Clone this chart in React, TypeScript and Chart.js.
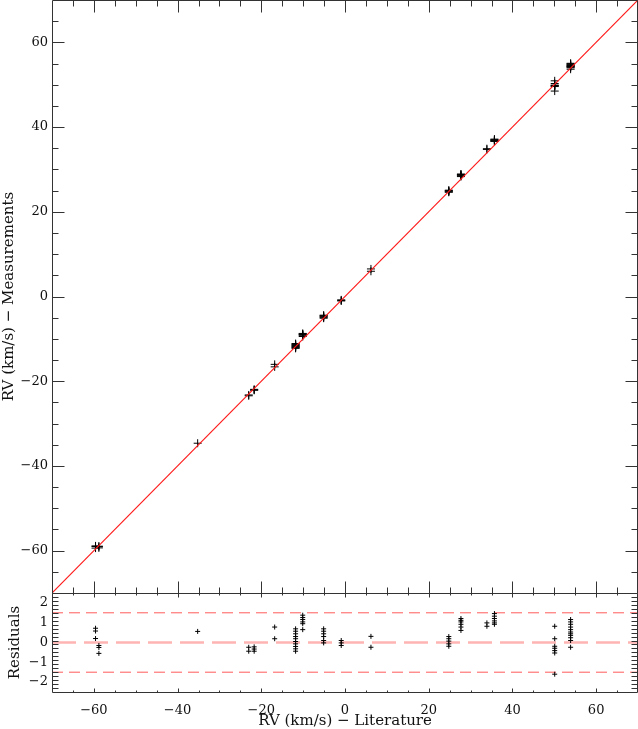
import React, { useEffect, useRef } from 'react';
import { Chart, registerables } from 'chart.js';

Chart.register(...registerables);

// ---------------- data ----------------
const AXIS_RANGE = [-70, 70];
const RES_RANGE = [-2.5, 2.5];
const xTickValues = [-60, -40, -20, 0, 20, 40, 60];
const yTickValues = [-60, -40, -20, 0, 20, 40, 60];
const resTickValues = [-2, -1, 0, 1, 2];
const resLimitValues = [-1.5, 1.5];

// literature RV of each star (km/s)
const starLiterature = [
  -59.6, -58.8, -35.2, -23.0, -21.7, -16.8, -11.8, -10.1, -5.1, -0.9, 6.2,
  24.8, 27.7, 33.9, 35.7, 50.1, 53.9,
];
// residuals (measured - literature) of the individual measurements of each star
const starResiduals = [
  [0.72, 0.58, 0.2],
  [-0.15, -0.25, -0.55],
  [0.56],
  [-0.24, -0.44],
  [-0.22, -0.33, -0.44],
  [0.78, 0.19],
  [0.69, 0.57, 0.44, 0.3, 0.19, 0.05, -0.07, -0.2, -0.32, -0.44],
  [1.38, 1.26, 1.16, 1.04, 0.95, 0.65],
  [0.69, 0.57, 0.44, 0.3, 0.1, -0.02],
  [0.1, -0.02, -0.15],
  [0.31, -0.24],
  [0.3, 0.19, 0.07, -0.07, -0.19],
  [1.21, 1.12, 1.04, 0.92, 0.78, 0.61],
  [0.99, 0.82],
  [1.46, 1.33, 1.21, 1.09, 0.99, 0.92],
  [0.82, 0.19, -0.19, -0.29, -0.41, -0.53, -1.6],
  [1.16, 1.04, 0.92, 0.78, 0.65, 0.53, 0.44, 0.36, 0.24, 0.1, -0.24],
];

const FONT = "'DejaVu Serif', 'Liberation Serif', serif";
const fmt = (v: number) => (v < 0 ? '\u2212' + Math.abs(v) : String(v));

const noPad = (s: any) => {
  s.paddingTop = 0;
  s.paddingBottom = 0;
  s.paddingLeft = 0;
  s.paddingRight = 0;
};

// ---------------- frame with inward ticks (IDL style) ----------------
function makeFramePlugin(o: {
  yMajor: number[]; yMinorStep: number; yLen: number; yMinLen: number;
  xMajor: number[]; xMinorStep: number; xLen: number; xMinLen: number;
}) {
  return {
    id: 'idlFrame',
    afterDatasetsDraw(chart: any) {
      const { ctx, chartArea: a, scales } = chart;
      const xs = scales.x, ys = scales.y;
      const L = a.left + 0.5, R = a.right - 0.5, T = a.top + 0.5, B = a.bottom + 0.5;
      ctx.save();
      ctx.strokeStyle = '#333';
      ctx.lineWidth = 1;
      ctx.beginPath();
      ctx.moveTo(L, T); ctx.lineTo(R, T); ctx.lineTo(R, B); ctx.lineTo(L, B); ctx.closePath();
      ctx.stroke();
      ctx.beginPath();
      const yMinV = ys.min, yMaxV = ys.max;
      const ny = Math.round((yMaxV - yMinV) / o.yMinorStep);
      for (let i = 0; i <= ny; i++) {
        const v = yMinV + i * o.yMinorStep;
        const isMajor = o.yMajor.some((m) => Math.abs(m - v) < 1e-6);
        const len = isMajor ? o.yLen : o.yMinLen;
        const p = Math.round(ys.getPixelForValue(v)) + 0.5;
        if (p <= T + 0.5 || p >= B - 0.5) continue;
        ctx.moveTo(L, p); ctx.lineTo(L + len, p);
        ctx.moveTo(R, p); ctx.lineTo(R - len, p);
      }
      const xMinV = xs.min, xMaxV = xs.max;
      const nx = Math.round((xMaxV - xMinV) / o.xMinorStep);
      for (let i = 0; i <= nx; i++) {
        const v = xMinV + i * o.xMinorStep;
        const isMajor = o.xMajor.some((m) => Math.abs(m - v) < 1e-6);
        const len = isMajor ? o.xLen : o.xMinLen;
        const p = Math.round(xs.getPixelForValue(v)) + 0.5;
        if (p <= L + 0.5 || p >= R - 0.5) continue;
        ctx.moveTo(p, T); ctx.lineTo(p, T + len);
        ctx.moveTo(p, B); ctx.lineTo(p, B - len);
      }
      ctx.stroke();
      ctx.restore();
    },
  };
}

export default function App() {
  const mainRef = useRef<HTMLCanvasElement>(null);
  const resRef = useRef<HTMLCanvasElement>(null);

  useEffect(() => {
    const mainPts: { x: number; y: number }[] = [];
    const resPts: { x: number; y: number }[] = [];
    starLiterature.forEach((lit, i) => {
      starResiduals[i].forEach((r) => {
        mainPts.push({ x: lit, y: lit + r });
        resPts.push({ x: lit, y: r });
      });
    });

    const main = new Chart(mainRef.current!, {
      type: 'scatter',
      data: {
        datasets: [
          {
            label: 'one-to-one',
            data: [
              { x: AXIS_RANGE[0], y: AXIS_RANGE[0] },
              { x: AXIS_RANGE[1], y: AXIS_RANGE[1] },
            ],
            showLine: true,
            borderColor: '#ff1a1a',
            borderWidth: 1.2,
            pointRadius: 0,
            order: 0,
          } as any,
          {
            label: 'stars',
            data: mainPts,
            pointStyle: 'cross',
            pointRadius: 4,
            borderColor: '#000',
            backgroundColor: '#000',
            borderWidth: 1,
            order: 1,
          } as any,
        ],
      },
      options: {
        animation: false,
        responsive: false,
        events: [],
        layout: { autoPadding: false, padding: { top: 0, right: 0, bottom: 1, left: 0 } },
        plugins: { legend: { display: false }, tooltip: { enabled: false } },
        scales: {
          x: { type: 'linear', min: AXIS_RANGE[0], max: AXIS_RANGE[1], display: false },
          y: {
            type: 'linear',
            min: AXIS_RANGE[0],
            max: AXIS_RANGE[1],
            grid: { display: false, drawTicks: false },
            border: { display: false },
            afterBuildTicks: (s: any) => { s.ticks = yTickValues.map((v) => ({ value: v })); },
            afterFit: (s: any) => { s.width = 52; noPad(s); },
            ticks: { padding: 4, color: '#111', font: { family: FONT, size: 13 }, callback: (v: any) => fmt(Number(v)) },
            title: {
              display: true,
              text: 'RV (km/s) \u2212 Measurements',
              color: '#111',
              font: { family: FONT, size: 15 },
              padding: { top: 0, bottom: 0 },
            },
          },
        },
      } as any,
      plugins: [
        makeFramePlugin({
          yMajor: yTickValues, yMinorStep: 5, yLen: 12, yMinLen: 6,
          xMajor: xTickValues, xMinorStep: 5, xLen: 12, xMinLen: 6,
        }) as any,
      ],
    });

    const res = new Chart(resRef.current!, {
      type: 'scatter',
      data: {
        datasets: [
          {
            label: 'residuals',
            data: resPts,
            pointStyle: 'cross',
            pointRadius: 2.5,
            borderColor: '#000',
            backgroundColor: '#000',
            borderWidth: 1,
            order: 0,
          } as any,
          {
            label: 'zero',
            data: [
              { x: AXIS_RANGE[0], y: 0 },
              { x: AXIS_RANGE[1], y: 0 },
            ],
            showLine: true,
            borderColor: '#ffb4b4',
            borderWidth: 2.5,
            borderDash: [24, 8],
            pointRadius: 0,
            order: 2,
          } as any,
          ...resLimitValues.map((lim) => ({
            label: 'limit ' + lim,
            data: [
              { x: AXIS_RANGE[0], y: lim },
              { x: AXIS_RANGE[1], y: lim },
            ],
            showLine: true,
            borderColor: '#ff5a5a',
            borderWidth: 1,
            borderDash: [11, 6],
            pointRadius: 0,
            order: 1,
          })) as any,
        ],
      },
      options: {
        animation: false,
        responsive: false,
        events: [],
        layout: { autoPadding: false, padding: { top: 1, right: 0, bottom: 0, left: 0 } },
        plugins: { legend: { display: false }, tooltip: { enabled: false } },
        scales: {
          x: {
            type: 'linear',
            min: AXIS_RANGE[0],
            max: AXIS_RANGE[1],
            grid: { display: false, drawTicks: false },
            border: { display: false },
            afterBuildTicks: (s: any) => { s.ticks = xTickValues.map((v) => ({ value: v })); },
            afterFit: (s: any) => { s.height = 37; noPad(s); },
            ticks: { padding: 11, maxRotation: 0, autoSkip: false, color: '#111', font: { family: FONT, size: 13 }, callback: (v: any) => fmt(Number(v)) },
            title: {
              display: true,
              text: 'RV (km/s) \u2212 Literature',
              color: '#111',
              font: { family: FONT, size: 15 },
              padding: { top: 0, bottom: -1 },
            },
          },
          y: {
            type: 'linear',
            min: RES_RANGE[0],
            max: RES_RANGE[1],
            grid: { display: false, drawTicks: false },
            border: { display: false },
            afterBuildTicks: (s: any) => { s.ticks = resTickValues.map((v) => ({ value: v })); },
            afterFit: (s: any) => { s.width = 52; noPad(s); },
            ticks: { padding: 4, color: '#111', font: { family: FONT, size: 13 }, callback: (v: any) => fmt(Number(v)) },
            title: {
              display: true,
              text: 'Residuals',
              color: '#111',
              font: { family: FONT, size: 15 },
              padding: { top: 6, bottom: 0 },
            },
          },
        },
      } as any,
      plugins: [
        makeFramePlugin({
          yMajor: resTickValues, yMinorStep: 0.2, yLen: 12, yMinLen: 6,
          xMajor: xTickValues, xMinorStep: 5, xLen: 4, xMinLen: 2,
        }) as any,
      ],
    });

    return () => {
      main.destroy();
      res.destroy();
    };
  }, []);

  return (
    <div style={{ position: 'fixed', left: 0, top: 0, width: 638, height: 729, background: '#fff' }}>
      <canvas ref={mainRef} width={638} height={594} style={{ position: 'absolute', left: 0, top: 0, width: 638, height: 594 }} />
      <canvas ref={resRef} width={638} height={137} style={{ position: 'absolute', left: 0, top: 592, width: 638, height: 137 }} />
    </div>
  );
}
